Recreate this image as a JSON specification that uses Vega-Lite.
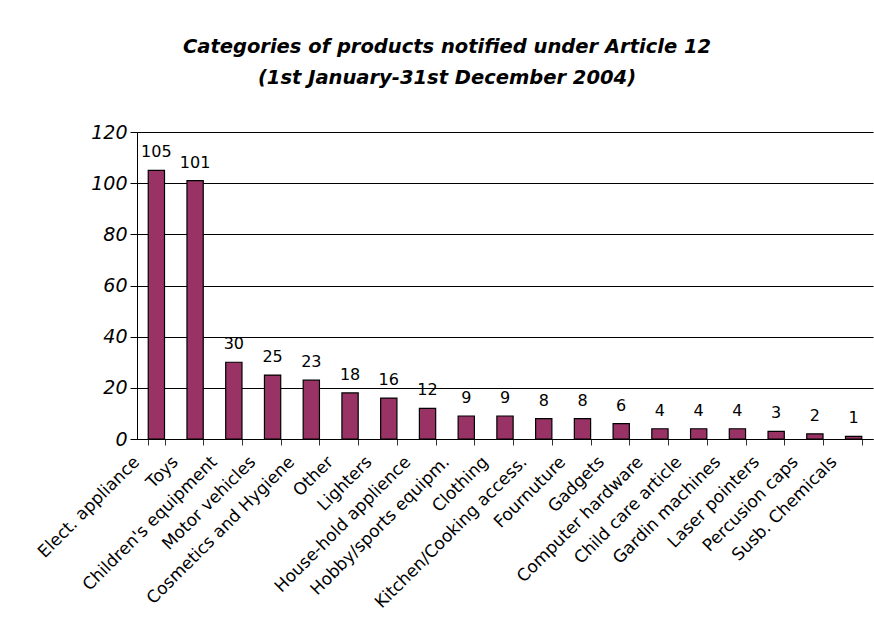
{
  "$schema": "https://vega.github.io/schema/vega-lite/v6.json",
  "width": 736,
  "height": 307,
  "autosize": "none",
  "padding": {"left": 137, "top": 132, "right": 1, "bottom": 189},
  "background": "white",
  "title": {
    "text": ["Categories of products notified under Article 12 ", "(1st January-31st December 2004)"],
    "font": "DejaVu Sans",
    "fontSize": 19.5,
    "fontStyle": "italic",
    "fontWeight": "bold",
    "color": "black",
    "dx": -58,
    "offset": 35,
    "lineHeight": 31
  },
  "data": {
    "values": [
      {"category": "Elect. appliance", "count": 105},
      {"category": "Toys", "count": 101},
      {"category": "Children's equipment", "count": 30},
      {"category": "Motor vehicles", "count": 25},
      {"category": "Cosmetics and Hygiene", "count": 23},
      {"category": "Other", "count": 18},
      {"category": "Lighters", "count": 16},
      {"category": "House-hold applience", "count": 12},
      {"category": "Hobby/sports equipm.", "count": 9},
      {"category": "Clothing", "count": 9},
      {"category": "Kitchen/Cooking access.", "count": 8},
      {"category": "Fournuture", "count": 8},
      {"category": "Gadgets", "count": 6},
      {"category": "Computer hardware", "count": 4},
      {"category": "Child care article", "count": 4},
      {"category": "Gardin machines", "count": 4},
      {"category": "Laser pointers", "count": 3},
      {"category": "Percusion caps", "count": 2},
      {"category": "Susb. Chemicals", "count": 1}
    ]
  },
  "encoding": {
    "x": {
      "field": "category",
      "type": "nominal",
      "sort": null,
      "scale": {"paddingInner": 0.58, "paddingOuter": 0.29},
      "axis": {
        "title": null,
        "labelAngle": -45,
        "labelBaseline": "middle",
        "labelAlign": "right",
        "labelOffset": -20,
        "labelPadding": 14,
        "labelLimit": 0,
        "labelFont": "DejaVu Sans",
        "labelFontSize": 17,
        "labelColor": "black",
        "domainColor": "black",
        "tickColor": "#333333",
        "tickSize": 6,
        "tickBand": "extent"
      }
    },
    "y": {
      "field": "count",
      "type": "quantitative",
      "scale": {"domain": [0, 120]},
      "axis": {
        "title": null,
        "values": [0, 20, 40, 60, 80, 100, 120],
        "labelFont": "DejaVu Sans",
        "labelFontSize": 19,
        "labelFontStyle": "italic",
        "labelColor": "black",
        "labelPadding": 3,
        "domainColor": "black",
        "tickColor": "black",
        "tickSize": 7,
        "gridColor": "black",
        "gridOpacity": 1,
        "gridWidth": 1
      }
    }
  },
  "layer": [
    {
      "mark": {"type": "bar", "color": "#993366", "stroke": "black", "strokeWidth": 1.2}
    },
    {
      "mark": {"type": "text", "baseline": "bottom", "dy": -10, "font": "DejaVu Sans", "fontSize": 16, "color": "black"},
      "encoding": {"text": {"field": "count", "type": "quantitative"}}
    }
  ],
  "config": {"view": {"stroke": null}}
}
